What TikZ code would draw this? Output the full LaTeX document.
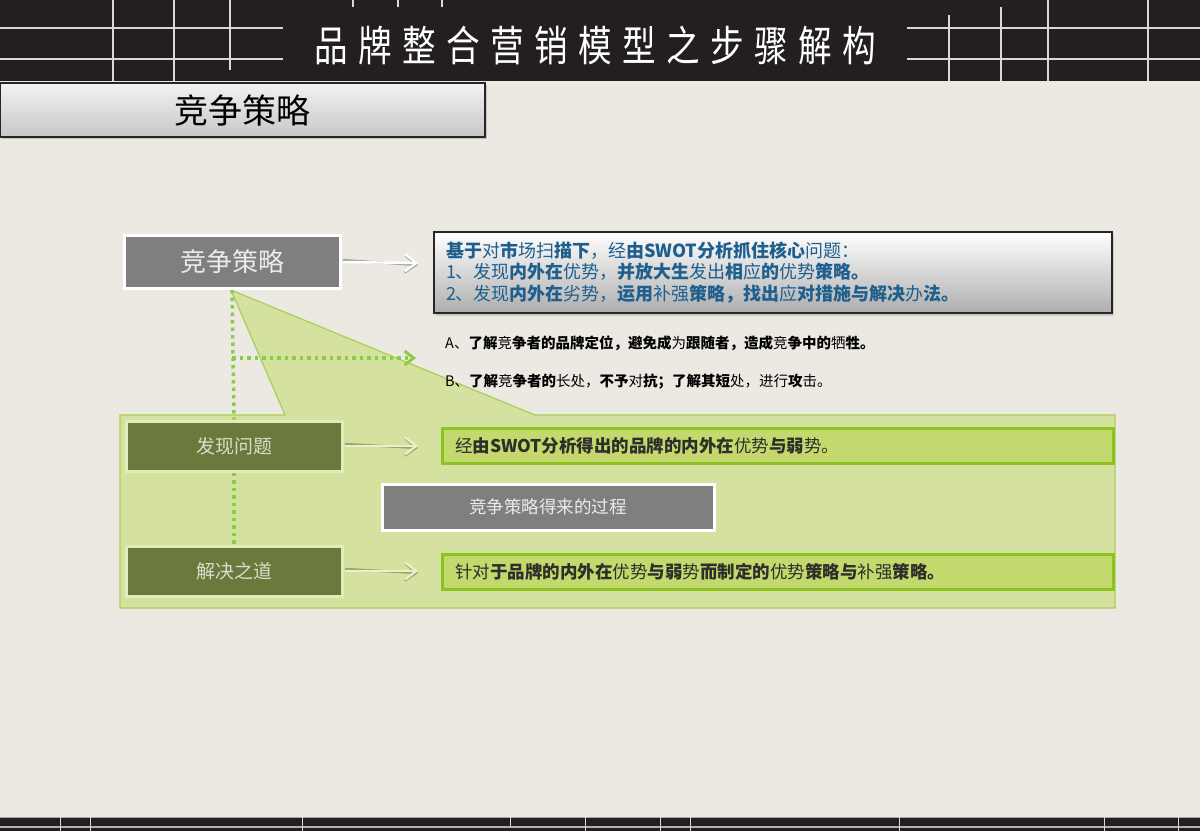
\documentclass[tikz,border=0pt]{standalone}
\usepackage{fontspec}
\newfontfamily\cjk{Noto Sans CJK SC}
\usetikzlibrary{arrows.meta,shadows}
\definecolor{bg}{HTML}{ECE9E3}
\definecolor{band}{HTML}{231F20}
\definecolor{gridc}{HTML}{D8D8D8}
\definecolor{grn}{HTML}{D4E19F}
\definecolor{grnline}{HTML}{A9CF55}
\definecolor{olive}{HTML}{6A7A3C}
\definecolor{olivebd}{HTML}{E2ECBA}
\definecolor{olivetext}{HTML}{DADCCB}
\definecolor{boxgreen}{HTML}{C3D96E}
\definecolor{brightgreen}{HTML}{8CC320}
\definecolor{bluetext}{HTML}{1E5F8E}
\definecolor{dotgreen}{HTML}{8DCC48}
\definecolor{midgray}{HTML}{7F7F7F}
\definecolor{darktext}{HTML}{2E2E2A}
\definecolor{gshad}{HTML}{97A867}
\definecolor{glight}{HTML}{EAF0CF}
\newcommand\bd[1]{{\bfseries #1}}
\begin{document}
\begin{tikzpicture}[x=1pt,y=-1pt,
  gridline/.style={gridc, line width=1.6pt},
  graybox/.style={draw=white, line width=3pt, fill=midgray, inner sep=0pt, text=white!92!black},
  olivebox/.style={draw=olivebd, line width=3pt, fill=olive, inner sep=0pt, minimum width=216pt, minimum height=50pt, text=olivetext, font=\cjk\fontsize{19}{19}\selectfont},
  gbox/.style={draw=brightgreen, line width=3pt, fill=boxgreen, minimum width=671pt, minimum height=35pt, text width=645pt, inner xsep=12pt, inner ysep=0pt, align=left, text=darktext, font=\cjk\fontsize{17.5}{20}\selectfont},
  dotline/.style={dotgreen, line width=3.5pt, dash pattern=on 3.5pt off 4pt},
  tipw/.style={-{Straight Barb[length=11pt,width=17pt,line width=2.2pt]}},
  wshadow/.style={gray!70, line width=2.4pt, tipw},
  wline/.style={white, line width=2.4pt, tipw},
  gshadow/.style={gshad, line width=2.4pt, tipw},
  gline/.style={glight, line width=2.4pt, tipw},
  abtext/.style={anchor=west, inner sep=0pt, text=black, font=\cjk\fontsize{14.5}{16}\selectfont}
]
\useasboundingbox (0,0) rectangle (1200,831);
\fill[bg] (0,0) rectangle (1200,831);
% top band
\fill[band] (0,0) rectangle (1200,81);
\draw[gridline] (0,28) -- (283,28);
\draw[gridline] (0,59) -- (283,59);
\draw[gridline] (907,28) -- (1200,28);
\draw[gridline] (907,59) -- (1200,59);
\draw[gridline] (113,0) -- (113,81);
\draw[gridline] (174,0) -- (174,81);
\draw[gridline] (230,0) -- (230,70);
\draw[gridline] (353,0) -- (353,7);
\draw[gridline] (398,0) -- (398,7);
\draw[gridline] (442,0) -- (442,7);
\draw[gridline] (949,15) -- (949,81);
\draw[gridline] (1001,7) -- (1001,81);
\draw[gridline] (1048,0) -- (1048,81);
\draw[gridline] (1148,0) -- (1148,81);
\node[text=white, inner sep=0pt] (title) at (595,45) {\cjk\fontsize{42}{42}\selectfont\scalebox{0.8}[1]{\makebox[702pt][s]{品\hfill 牌\hfill 整\hfill 合\hfill 营\hfill 销\hfill 模\hfill 型\hfill 之\hfill 步\hfill 骤\hfill 解\hfill 构}}};
% bottom band
\fill[band] (0,817) rectangle (1200,831);
\draw[gray!70, line width=1pt] (0,817.5) -- (1200,817.5);
\draw[gray!60, line width=1.5pt] (0,827) -- (1200,827);
\foreach \xx in {60,90,302,585,660,690,899,1104,1178} {\draw[white!85!black, line width=1pt] (\xx,817) -- (\xx,831);}
\draw[white!85!black, line width=1pt] (510,817) -- (510,826);
% heading
\node[draw=black!85, line width=1.2pt, top color=white!95!black, bottom color=black!22, minimum width=485pt, minimum height=54pt, inner sep=0pt, font=\cjk\fontsize{34}{34}\selectfont, drop shadow={opacity=0.35, shadow xshift=1.5pt, shadow yshift=-1.5pt}] (head) at (242.5,110) {竞争策略};
% green area with callout
\filldraw[fill=grn, draw=grnline, line width=1.2pt] (120,415) -- (285,415) -- (231,290) -- (535,415) -- (1115,415) -- (1115,608) -- (120,608) -- cycle;
% nodes
\node[graybox, minimum width=216pt, minimum height=53pt, font=\cjk\fontsize{26}{26}\selectfont] (jz) at (232,262) {竞争策略};
\node[draw=black!85, line width=1.2pt, top color=white, bottom color=black!32, minimum width=678pt, minimum height=81pt, text width=654pt, inner xsep=12pt, align=left, text=bluetext, font=\cjk\fontsize{18}{21.5}\selectfont, drop shadow={opacity=0.3, shadow xshift=2pt, shadow yshift=-2.5pt}] (blue) at (773,272.5) {\bd{基于}对\bd{市}场扫\bd{描下}，经\bd{由SWOT分析抓住核心}问题：\\
1、发现\bd{内外在}优势，\bd{并放大生}发出\bd{相}应\bd{的}优势\bd{策略。}\\
2、发现\bd{内外在}劣势，\bd{运用}补强\bd{策略，找出}应\bd{对措施与解决}办\bd{法。}};
\node[abtext] (ta) at (445,343) {A、\bd{了解}竞\bd{争者的品牌定位，避免成}为\bd{跟随者，造成}竞\bd{争中的}牺\bd{牲。}};
\node[abtext] (tb) at (445,382) {B、\bd{了解}竞\bd{争者的}长处，\bd{不予}对\bd{抗；了解其短}处，进行\bd{攻}击。};
\node[olivebox] (fx) at (234,446) {发现问题};
\node[olivebox] (jj) at (234,571) {解决之道};
\node[graybox, minimum width=332pt, minimum height=46pt, font=\cjk\fontsize{17.5}{17.5}\selectfont] (gc) at (548,507) {竞争策略得来的过程};
\node[gbox] (g1) at (777.5,445.5) {经\bd{由SWOT分析得出的品牌的内外在}优势\bd{与弱}势。};
\node[gbox] (g2) at (777.5,571.5) {针对\bd{于品牌的内外在}优势\bd{与弱}势\bd{而制定的}优势\bd{策略与}补强\bd{策略。}};
% dotted connectors
\coordinate (dj) at (232,358);
\coordinate (dt) at (416,358);
\coordinate (a1) at (418,263);
\coordinate (a1s) at (418,265);
\coordinate (a2) at (418,446);
\coordinate (a2s) at (418,448);
\coordinate (a3) at (418,571);
\coordinate (a3s) at (418,573);
\draw[dotline] (jz.south) -- (fx.north);
\draw[dotline] (fx.south) -- (jj.north);
\draw[dotline] (dj) -- ([xshift=-6pt]dt);
\draw[dotgreen, line width=3pt, -{Straight Barb[length=9pt,width=14pt,line width=3pt]}] ([xshift=-5pt]dt) -- (dt);
% arrows
\draw[wshadow] ([xshift=1.5pt,yshift=2pt]jz.east) -- (a1s);
\draw[wline] ([xshift=1.5pt]jz.east) -- (a1);
\draw[gshadow] ([xshift=1.5pt,yshift=2pt]fx.east) -- (a2s);
\draw[gline] ([xshift=1.5pt]fx.east) -- (a2);
\draw[gshadow] ([xshift=1.5pt,yshift=2pt]jj.east) -- (a3s);
\draw[gline] ([xshift=1.5pt]jj.east) -- (a3);
\end{tikzpicture}
\end{document}
